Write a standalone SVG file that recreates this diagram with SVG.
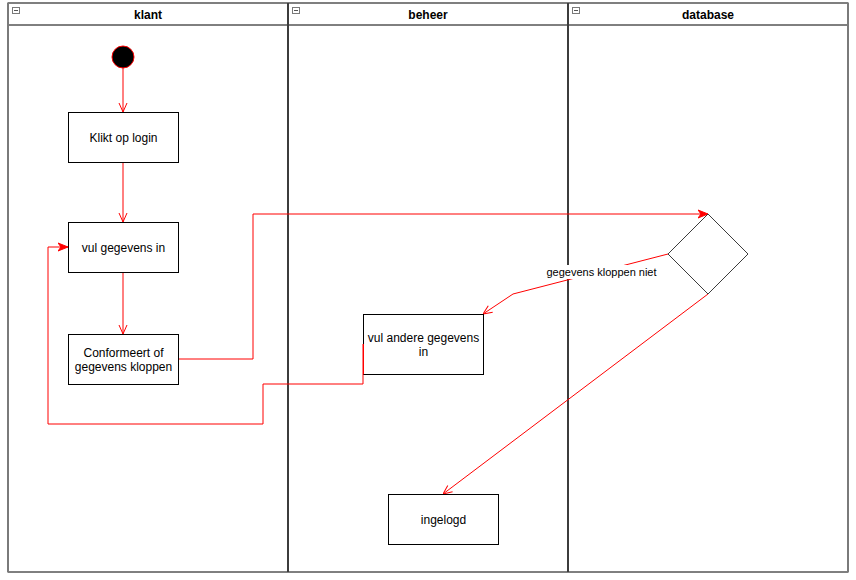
<svg xmlns="http://www.w3.org/2000/svg" width="856" height="580" viewBox="0 0 856 580">
  <style>
    .lane { fill: #ffffff; stroke: #000000; stroke-width: 1; }
    .divider { stroke: #3c3c3c; stroke-width: 2; }
    .hdr { font-family: "Liberation Sans", Arial, sans-serif; font-size: 12px; font-weight: bold; fill: #000000; text-anchor: middle; }
    .box { fill: #ffffff; stroke: #000000; stroke-width: 1; }
    .lbl { font-family: "Liberation Sans", Arial, sans-serif; font-size: 12px; fill: #000000; text-anchor: middle; }
    .edge-lbl { font-family: "Liberation Sans", Arial, sans-serif; font-size: 11px; fill: #000000; text-anchor: middle; }
    .edge { fill: none; stroke: #ff0000; stroke-width: 1; }
    .toggle { fill: #ffffff; stroke: #7a7a7a; stroke-width: 1; }
  </style>
  <defs>
    <marker id="open" viewBox="0 0 10 10" refX="10" refY="5" markerWidth="10" markerHeight="10" markerUnits="userSpaceOnUse" orient="auto">
      <path d="M1,1 L10,5 L1,9" fill="none" stroke="#ff0000" stroke-width="1"/>
    </marker>
    <marker id="classic" viewBox="0 0 10 10" refX="10" refY="5" markerWidth="10" markerHeight="10" markerUnits="userSpaceOnUse" orient="auto">
      <path d="M0,1 L10,5 L0,9 L3,5 Z" fill="#ff0000" stroke="#ff0000" stroke-width="1"/>
    </marker>
  </defs>

  <rect width="856" height="580" fill="#ffffff"/>

  <!-- pool with three swimlanes -->
  <g id="pool">
    <rect class="lane" x="8" y="3" width="840" height="569"/>
    <line x1="8" y1="25" x2="848" y2="25" stroke="#000000" stroke-width="1"/>
    <line x1="8" y1="3" x2="8" y2="572" stroke="#7a7a7a" stroke-width="2"/>
    <line x1="848" y1="3" x2="848" y2="572" stroke="#7a7a7a" stroke-width="2"/>
  </g>
  <g id="lane-klant">
    <rect class="toggle" x="12.5" y="7.5" width="7" height="6"/>
    <line x1="14" y1="10.5" x2="18" y2="10.5" stroke="#555555"/>
    <text class="hdr" x="148" y="18.5">klant</text>
  </g>
  <g id="lane-beheer">
    <line class="divider" x1="288" y1="3" x2="288" y2="572"/>
    <rect class="toggle" x="292.5" y="7.5" width="7" height="6"/>
    <line x1="294" y1="10.5" x2="298" y2="10.5" stroke="#555555"/>
    <text class="hdr" x="428" y="18.5">beheer</text>
  </g>
  <g id="lane-database">
    <line class="divider" x1="568" y1="3" x2="568" y2="572"/>
    <rect class="toggle" x="572.5" y="7.5" width="7" height="6"/>
    <line x1="574" y1="10.5" x2="578" y2="10.5" stroke="#555555"/>
    <text class="hdr" x="708" y="18.5">database</text>
  </g>

  <!-- connectors -->
  <g id="connectors">
    <path class="edge" d="M123,68 L123,112" marker-end="url(#open)"/>
    <path class="edge" d="M123,162 L123,222" marker-end="url(#open)"/>
    <path class="edge" d="M123,272 L123,334" marker-end="url(#open)"/>
    <path class="edge" d="M178,359 L253,359 L253,214 L708,214" marker-end="url(#classic)"/>
    <path class="edge" d="M363,344 L363,384 L263,384 L263,424 L48,424 L48,247 L68,247" marker-end="url(#classic)"/>
    <path class="edge" d="M668,254 L513,294 L483,314" marker-end="url(#open)"/>
    <path class="edge" d="M708,294 L443,494" marker-end="url(#open)"/>
    <rect x="546" y="265" width="111" height="14" fill="#ffffff"/>
    <text class="edge-lbl" x="601.5" y="276">gegevens kloppen niet</text>
  </g>

  <!-- nodes -->
  <g id="start">
    <circle cx="123" cy="57" r="11" fill="#000000" stroke="#ff0000" stroke-width="1"/>
  </g>
  <g id="klikt-op-login">
    <rect class="box" x="68.5" y="112.5" width="110" height="50"/>
    <text class="lbl" x="123.5" y="141.5">Klikt op login</text>
  </g>
  <g id="vul-gegevens-in">
    <rect class="box" x="68.5" y="222.5" width="110" height="50"/>
    <text class="lbl" x="123.5" y="251.5">vul gegevens in</text>
  </g>
  <g id="conformeert">
    <rect class="box" x="68.5" y="334.5" width="110" height="50"/>
    <text class="lbl" x="123.5" y="356.5">Conformeert of</text>
    <text class="lbl" x="123.5" y="370.5">gegevens kloppen</text>
  </g>
  <g id="vul-andere-gegevens-in">
    <rect class="box" x="363.5" y="314.5" width="120" height="60"/>
    <line x1="363.5" y1="344" x2="363.5" y2="374.5" stroke="#ff0000" stroke-width="1"/>
    <text class="lbl" x="423.5" y="341.5">vul andere gegevens</text>
    <text class="lbl" x="423.5" y="355.5">in</text>
  </g>
  <g id="decision">
    <path d="M708,214 L748,254 L708,294 L668,254 Z" fill="#ffffff" stroke="#3c3c3c" stroke-width="1"/>
  </g>
  <g id="ingelogd">
    <rect class="box" x="388.5" y="494.5" width="110" height="50"/>
    <text class="lbl" x="443.5" y="523.5">ingelogd</text>
  </g>
</svg>
